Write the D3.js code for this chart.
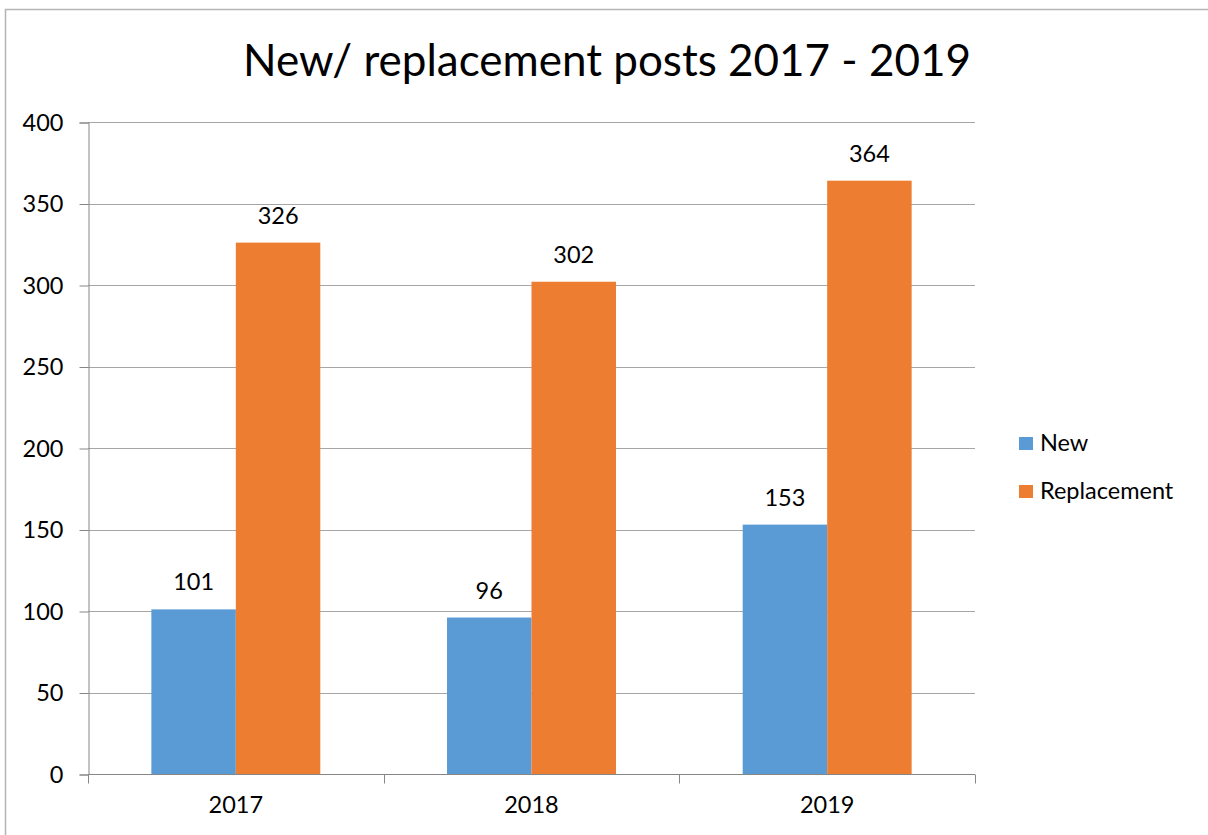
<!DOCTYPE html>
<html>
<head>
<meta charset="utf-8">
<script src="https://cdn.jsdelivr.net/npm/d3@7"></script>
<style>
  body { margin: 0; background: #fff; }
  svg { font-family: Lato, "Open Sans", sans-serif; }
</style>
</head>
<body>
<svg id="chart" width="1208" height="835"></svg>
<script>
// chart values
var years = ["2017", "2018", "2019"];
var seriesNames = ["New", "Replacement"];
var newPosts = [101, 96, 153];
var replacementPosts = [326, 302, 364];
var yTicks = [0, 50, 100, 150, 200, 250, 300, 350, 400];
var colors = ["#5b9bd5", "#ed7d31"];

var svg = d3.select("#chart");
var plotLeft = 88, plotRight = 975, plotTop = 122, plotBottom = 774;
var labelSize = 23.5;

// outer chart frame (runs past the picture edge on the right and bottom)
svg.append("rect").attr("x", 5.5).attr("y", 9.5).attr("width", 1300).attr("height", 900)
  .attr("fill", "none").attr("stroke", "#b4b4b4").attr("stroke-width", 1.5);

var x = d3.scaleBand().domain(years).range([plotLeft, plotRight]).paddingInner(0).paddingOuter(0);
var inner = d3.scaleBand().domain(seriesNames).range([0, x.bandwidth()]).paddingInner(0).paddingOuter(0.75);
var y = d3.scaleLinear().domain([0, 400]).range([plotBottom, plotTop]);

// gridlines
svg.append("g").selectAll("line").data(yTicks.slice(1)).enter().append("line")
  .attr("x1", plotLeft).attr("x2", plotRight)
  .attr("y1", function (d) { return Math.round(y(d)) + 0.5; }).attr("y2", function (d) { return Math.round(y(d)) + 0.5; })
  .attr("stroke", "#a6a6a6").attr("stroke-width", 1);

// bars
var rows = years.map(function (yr, i) { return { year: yr, values: [newPosts[i], replacementPosts[i]] }; });
var groups = svg.append("g").selectAll("g").data(rows).enter().append("g")
  .attr("transform", function (d) { return "translate(" + x(d.year) + ",0)"; });

groups.selectAll("rect").data(function (d) { return d.values.map(function (v, j) { return { s: seriesNames[j], v: v, j: j }; }); })
  .enter().append("rect")
  .attr("x", function (d) { return inner(d.s); })
  .attr("width", inner.bandwidth())
  .attr("y", function (d) { return y(d.v); })
  .attr("height", function (d) { return y(0) - y(d.v); })
  .attr("fill", function (d) { return colors[d.j]; });

groups.selectAll("text").data(function (d) { return d.values.map(function (v, j) { return { s: seriesNames[j], v: v }; }); })
  .enter().append("text")
  .attr("x", function (d) { return inner(d.s) + inner.bandwidth() / 2; })
  .attr("y", function (d) { return y(d.v) - 19; })
  .attr("text-anchor", "middle").attr("font-size", labelSize).attr("fill", "#000")
  .text(function (d) { return d.v; });

// y axis
var yAxis = d3.axisLeft(y).tickValues(yTicks).tickSize(9).tickPadding(16);
var gy = svg.append("g").attr("transform", "translate(" + (plotLeft + 0.5) + ",0.5)").call(yAxis);
gy.select(".domain").attr("stroke", "#868686");
gy.selectAll(".tick line").attr("stroke", "#868686");
gy.selectAll(".tick text").attr("font-size", labelSize).attr("fill", "#000").attr("font-family", "Lato, sans-serif");

// x axis, ticks on category boundaries
var xAxis = d3.axisBottom(x).tickSize(0).tickPadding(22);
var gx = svg.append("g").attr("transform", "translate(0," + (plotBottom + 0.5) + ")").call(xAxis);
gx.select(".domain").attr("stroke", "#868686").attr("d", "M" + plotLeft + ",0H" + plotRight);
gx.selectAll(".tick text").attr("font-size", labelSize).attr("fill", "#000").attr("font-family", "Lato, sans-serif");
var bounds = years.map(function (yr) { return x(yr); }).concat([plotRight]);
gx.selectAll(".bnd").data(bounds).enter().append("line").attr("class", "bnd")
  .attr("x1", function (d) { return Math.round(d) + 0.5; }).attr("x2", function (d) { return Math.round(d) + 0.5; })
  .attr("y1", 0).attr("y2", 9).attr("stroke", "#868686");

// title
svg.append("text").attr("x", 607).attr("y", 76).attr("text-anchor", "middle")
  .attr("font-size", 44).attr("fill", "#000").text("New/ replacement posts 2017 - 2019");

// legend
var legend = svg.append("g").selectAll("g").data(seriesNames).enter().append("g")
  .attr("transform", function (d, i) { return "translate(1019," + (437 + i * 48) + ")"; });
legend.append("rect").attr("width", 14).attr("height", 13).attr("fill", function (d, i) { return colors[i]; });
legend.append("text").attr("x", 21).attr("y", 14).attr("font-size", labelSize).attr("fill", "#000")
  .text(function (d) { return d; });
</script>
</body>
</html>
